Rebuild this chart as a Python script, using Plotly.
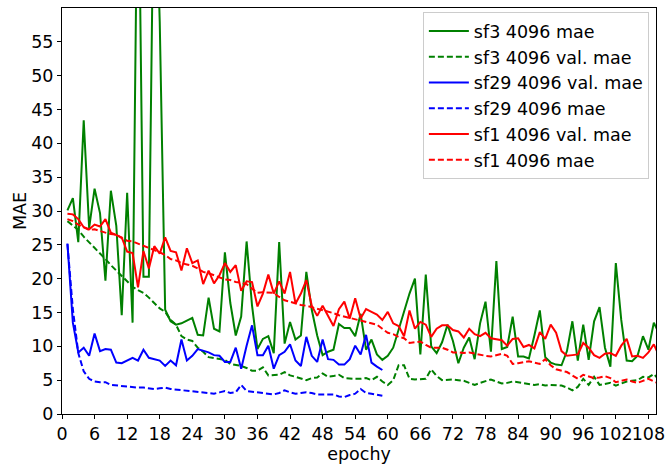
import plotly.graph_objects as go

epochs = list(range(1, 111))
epochs_sf29 = list(range(1, 60))

sf3_mae = [30.1, 31.9, 25.4, 43.4, 27.5, 33.3, 29.7, 19.7, 33.0, 27.8,
           14.6, 32.7, 13.5, 88.0, 20.3, 20.3, 86.0, 58.0, 15.4, 13.7,
           13.2, 13.4, 13.8, 14.2, 11.7, 11.6, 17.2, 12.6, 12.2, 23.9,
           16.4, 11.6, 14.4, 25.5, 16.0, 9.6, 11.1, 11.5, 9.0, 25.4,
           10.4, 13.6, 11.0, 11.6, 21.0, 15.4, 11.6, 8.7, 9.2, 9.5,
           13.3, 12.7, 12.7, 11.5, 14.8, 9.5, 11.0, 8.8, 8.0, 8.6,
           9.8, 12.6, 15.0, 17.8, 20.0, 8.8, 20.6, 10.0, 9.0, 10.6,
           13.2, 10.8, 7.5, 9.8, 11.3, 8.1, 13.4, 16.6, 9.2, 22.6,
           9.6, 9.9, 14.4, 8.5, 8.5, 8.2, 11.6, 15.3, 8.4, 7.6,
           7.3, 7.2, 9.3, 13.7, 7.9, 13.2, 8.0, 13.7, 15.8, 9.8,
           7.0, 22.3, 13.9, 7.9, 7.8, 8.6, 11.5, 9.5, 13.5, 11.8]

sf3_val_mae = [28.5, 27.8, 27.2, 26.2, 25.4, 24.6, 23.8, 22.9, 22.0, 21.2,
               20.3, 19.5, 18.8, 18.3, 17.9, 17.2, 16.4, 15.6, 15.1, 13.9,
               13.2, 11.5, 11.0, 10.8, 9.8, 9.2, 8.4, 8.3, 8.1, 8.0,
               7.4, 7.3, 7.1, 6.8, 6.4, 6.4, 6.9, 5.7, 5.7, 5.8,
               6.2, 5.7, 5.5, 5.3, 5.0, 5.3, 5.4, 6.0, 5.5, 5.6,
               5.8, 5.3, 5.2, 5.2, 5.2, 5.3, 5.0, 5.5, 4.8, 4.3,
               5.0, 7.2, 7.2, 5.2, 5.1, 5.2, 5.2, 6.6, 5.6, 5.0,
               5.1, 5.1, 5.0, 4.9, 4.6, 4.3, 4.6, 4.9, 5.1, 4.8,
               4.5, 4.6, 4.8, 4.7, 4.6, 4.4, 4.3, 4.4, 4.2, 4.3,
               4.2, 4.2, 3.9, 3.5, 4.0, 5.2, 4.3, 5.5, 4.3, 4.4,
               4.6, 4.2, 4.5, 4.8, 4.9, 5.0, 5.5, 5.4, 5.9, 5.0]

sf29_val_mae = [25.2, 13.5, 9.1, 9.8, 8.6, 11.9, 9.3, 9.6, 9.5, 7.6,
                7.5, 7.9, 8.3, 7.9, 9.5, 8.3, 8.1, 7.9, 7.1, 7.9,
                7.2, 11.0, 7.9, 8.6, 9.6, 9.4, 9.1, 8.7, 8.6, 7.7,
                7.7, 9.8, 6.7, 10.1, 13.1, 8.7, 8.7, 10.1, 6.7, 8.7,
                9.2, 10.3, 7.9, 7.1, 11.4, 8.6, 7.7, 11.0, 8.1, 8.0,
                7.3, 7.3, 8.1, 10.1, 8.8, 11.7, 7.6, 7.0, 6.5]

sf29_mae = [25.1, 15.5, 9.0, 6.3, 5.2, 4.8, 4.7, 4.7, 4.3, 4.2,
            4.1, 4.0, 4.0, 3.9, 3.9, 3.8, 3.7, 3.8, 3.9, 3.7,
            3.6, 3.6, 3.5, 3.4, 3.2, 3.2, 3.1, 3.0, 3.2, 3.4,
            3.1, 3.2, 4.3, 3.4, 3.3, 3.2, 3.2, 3.1, 2.9, 3.1,
            3.5, 3.2, 3.0, 3.1, 3.2, 3.1, 2.9, 2.9, 2.9, 2.9,
            2.6, 2.5, 2.8, 3.0, 3.7, 3.1, 3.0, 2.9, 2.7]

sf1_val_mae = [29.6, 29.5, 28.8, 27.6, 27.3, 28.0, 27.7, 28.8, 26.8, 26.5,
               26.1, 24.0, 23.8, 18.7, 24.1, 21.5, 24.8, 23.7, 26.1, 24.1,
               23.9, 21.2, 24.5, 22.3, 22.7, 19.2, 21.2, 19.3, 20.5, 22.3,
               21.0, 22.0, 18.2, 19.6, 19.5, 15.9, 17.8, 20.6, 17.8, 19.6,
               17.8, 21.0, 16.3, 17.8, 19.8, 16.0, 14.5, 16.0, 14.4, 13.0,
               15.5, 16.6, 14.1, 17.1, 14.1, 15.5, 15.1, 14.7, 13.9, 15.1,
               13.4, 13.0, 11.5, 15.3, 12.6, 13.6, 13.2, 11.4, 12.6, 13.1,
               13.1, 12.4, 12.2, 11.3, 12.6, 11.8, 11.5, 12.0, 11.2, 11.1,
               10.9, 10.1, 11.1, 11.2, 9.9, 10.2, 9.7, 12.1, 11.1, 13.2,
               12.0, 9.3, 8.6, 8.7, 8.8, 10.5, 9.8, 8.7, 8.3, 8.9,
               9.0, 8.6, 10.1, 11.1, 8.5, 8.6, 8.3, 9.1, 10.3, 8.5]

sf1_mae = [28.8, 28.5, 28.0, 27.6, 27.2, 27.3, 27.0, 26.8, 26.6, 26.5,
           26.0, 25.6, 25.5, 25.2, 24.9, 24.5, 24.3, 23.9, 23.5, 22.9,
           22.7, 22.3, 22.1, 21.9, 21.5, 21.0, 20.8, 20.5, 20.2, 19.9,
           19.8, 19.5, 19.4, 19.2, 18.5, 17.9, 18.0, 17.9, 17.9, 17.3,
           16.8, 16.6, 16.3, 16.1, 16.0, 15.8, 15.6, 15.3, 15.1, 14.9,
           14.6, 14.4, 14.1, 14.0, 13.8, 13.6, 13.4, 13.2, 12.6, 12.0,
           11.8, 11.4, 11.2, 10.5, 10.6, 10.7, 10.2, 9.8, 9.8, 9.8,
           9.5, 9.1, 9.1, 9.0, 9.1, 8.9, 8.7, 8.6, 8.5, 8.7,
           8.9, 8.6, 7.4, 7.5, 7.6, 7.8, 7.6, 7.4, 8.1, 7.2,
           6.6, 6.4, 6.2, 5.7, 5.2, 5.8, 5.5, 5.3, 5.4, 5.6,
           5.3, 4.7, 4.9, 5.1, 4.8, 4.6, 4.9, 5.2, 4.8, 4.5]

x_ticks = list(range(0, 109, 6))
y_ticks = list(range(0, 60, 5))

DASH = "6px,3px"
series = [
    ("sf3 4096 mae", epochs, sf3_mae, "green", "solid"),
    ("sf3 4096 val. mae", epochs, sf3_val_mae, "green", DASH),
    ("sf29 4096 val. mae", epochs_sf29, sf29_val_mae, "blue", "solid"),
    ("sf29 4096 mae", epochs_sf29, sf29_mae, "blue", DASH),
    ("sf1 4096 val. mae", epochs, sf1_val_mae, "red", "solid"),
    ("sf1 4096 mae", epochs, sf1_mae, "red", DASH),
]

fig = go.Figure()
for name, xs, ys, color, dash in series:
    fig.add_trace(go.Scatter(x=xs, y=ys, mode="lines", name=name,
                             line=dict(color=color, width=2, dash=dash)))

font = "DejaVu Sans, sans-serif"
FS = 17.5
axis_common = dict(showline=True, linecolor="black", linewidth=1, mirror=True,
                   ticks="outside", ticklen=4, tickwidth=1, tickcolor="black",
                   showgrid=False, zeroline=False, ticklabeloverflow="allow",
                   tickfont=dict(family=font, size=FS, color="black"))

fig.update_layout(
    width=672, height=465,
    margin=dict(l=62, r=8, t=7, b=46),
    paper_bgcolor="white", plot_bgcolor="white",
    font=dict(family=font, size=FS, color="black"),
    xaxis=dict(range=[0, 109.4], tickvals=x_ticks, tickangle=0,
               title=dict(text="epochy", font=dict(family=font, size=FS), standoff=2),
               **axis_common),
    yaxis=dict(range=[0, 60], tickvals=y_ticks,
               title=dict(text="MAE", font=dict(family=font, size=FS), standoff=0),
               **axis_common),
    legend=dict(x=0.988, y=0.990, xanchor="right", yanchor="top",
                bgcolor="rgba(255,255,255,0.8)", bordercolor="#cccccc", borderwidth=1,
                font=dict(family=font, size=FS, color="black"),
                itemwidth=40),
    showlegend=True,
)

fig.write_html("out.html")
